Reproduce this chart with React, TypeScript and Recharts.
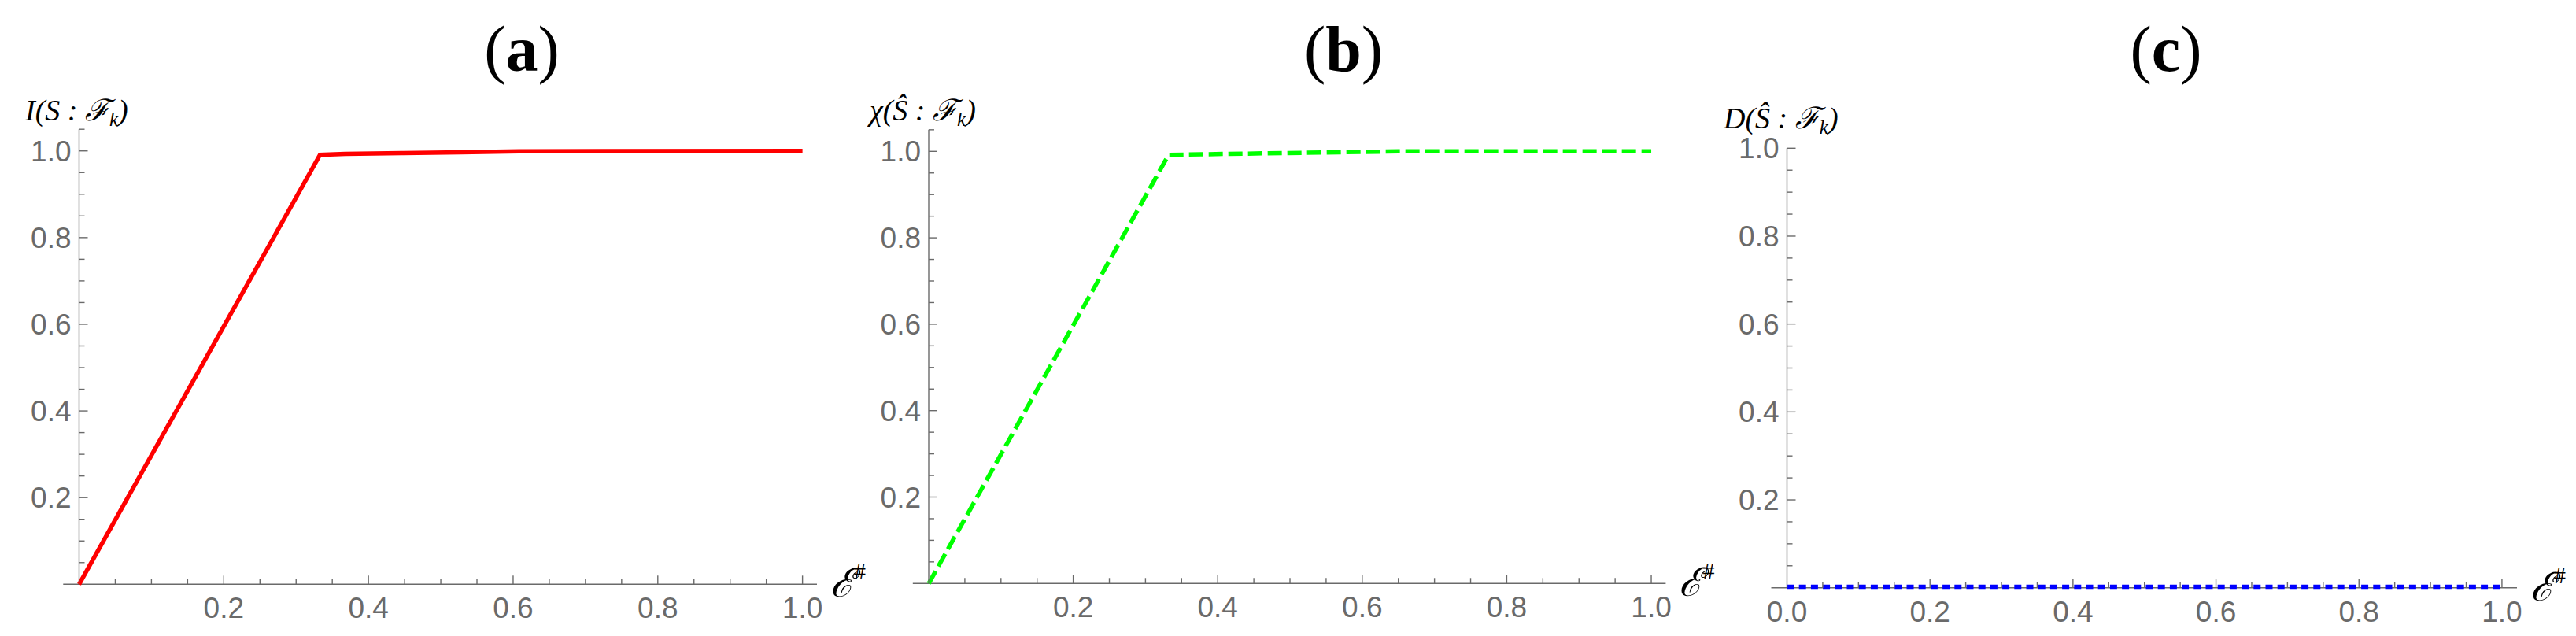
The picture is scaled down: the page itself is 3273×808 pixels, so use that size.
import React from 'react';
import { LineChart, Line, XAxis, YAxis, ReferenceLine } from 'recharts';

// ---------- data ----------
const aX = [0, 0.333, 0.368, 0.448, 0.528, 0.608, 1.0];
const aY = [0, 0.991, 0.993, 0.995, 0.997, 0.999, 1.0];

const bX = [0, 0.332, 0.409, 0.489, 0.569, 0.65, 1.0];
const bY = [0, 0.992, 0.994, 0.996, 0.998, 1.0, 1.0];

const cX = [0, 0.25, 0.5, 0.75, 1.0];
const cY = [0.002, 0.002, 0.002, 0.002, 0.002];

const xTicksAB = [0.05, 0.1, 0.15, 0.2, 0.25, 0.3, 0.35, 0.4, 0.45, 0.5, 0.55, 0.6, 0.65, 0.7, 0.75, 0.8, 0.85, 0.9, 0.95, 1.0];
const xMajorAB = [0.2, 0.4, 0.6, 0.8, 1.0];
const xLabelsAB = ['0.2', '0.4', '0.6', '0.8', '1.0'];

const xTicksC = [0, 0.05, 0.1, 0.15, 0.2, 0.25, 0.3, 0.35, 0.4, 0.45, 0.5, 0.55, 0.6, 0.65, 0.7, 0.75, 0.8, 0.85, 0.9, 0.95, 1.0];
const xMajorC = [0, 0.2, 0.4, 0.6, 0.8, 1.0];
const xLabelsC = ['0.0', '0.2', '0.4', '0.6', '0.8', '1.0'];

const yTicksAB = [0.05, 0.1, 0.15, 0.2, 0.25, 0.3, 0.35, 0.4, 0.45, 0.5, 0.55, 0.6, 0.65, 0.7, 0.75, 0.8, 0.85, 0.9, 0.95, 1.0, 1.05];
const yTicksC = [0.05, 0.1, 0.15, 0.2, 0.25, 0.3, 0.35, 0.4, 0.45, 0.5, 0.55, 0.6, 0.65, 0.7, 0.75, 0.8, 0.85, 0.9, 0.95, 1.0];
const yMajor = [0.2, 0.4, 0.6, 0.8, 1.0];
const yLabels = ['0.2', '0.4', '0.6', '0.8', '1.0'];

const titles = ['a', 'b', 'c'];
const yAxisTitles = ['I(S : ℱ', 'χ(Ŝ : ℱ', 'D(Ŝ : ℱ'];

// ---------- styles ----------
const AXIS = '#6a6a6a';
const TICKTEXT = '#6a6a6a';
const SANS = "'Liberation Sans', Arial, sans-serif";
const SERIF = "'Liberation Serif', 'DejaVu Serif', serif";

const findMajor = (majors: number[], v: number) => majors.findIndex((m) => Math.abs(m - v) < 1e-9);

const XTick = (props: any) => {
  const { x, y, payload, majors, labels } = props;
  const idx = findMajor(majors, payload.value);
  const major = idx >= 0;
  return (
    <g>
      {payload.value !== 0 && (
        <line x1={x} x2={x} y1={y} y2={y - (major ? 11 : 7)} stroke={AXIS} strokeWidth={1.4} />
      )}
      {major && (
        <text x={x} y={y + 43} textAnchor="middle" fontFamily={SANS} fontSize={37} fill={TICKTEXT}>
          {labels[idx]}
        </text>
      )}
    </g>
  );
};

const YTick = (props: any) => {
  const { x, y, payload } = props;
  const idx = findMajor(yMajor, payload.value);
  const major = idx >= 0;
  return (
    <g>
      <line x1={x} x2={x + (major ? 11 : 7)} y1={y} y2={y} stroke={AXIS} strokeWidth={1.4} />
      {major && (
        <text x={x - 10} y={y + 13} textAnchor="end" fontFamily={SANS} fontSize={37} fill={TICKTEXT}>
          {yLabels[idx]}
        </text>
      )}
    </g>
  );
};

const XLabel = (props: any) => {
  const vb = props.viewBox || {};
  return (
    <text x={vb.x + vb.width + 17} y={vb.y + 16} fontFamily={SERIF} fontSize={50} fill="#000">
      <tspan fontStyle="italic">ℰ</tspan>
      <tspan fontSize={30} dy={-22}>#</tspan>
    </text>
  );
};

const makeYLabel = (idx: number, dx: number, dy: number) => (props: any) => {
  const vb = props.viewBox || {};
  const x = vb.x + vb.width + dx;
  const y = vb.y + dy;
  return (
    <text x={x} y={y} fontFamily={SERIF} fontSize={38} fontStyle="italic" fill="#000">
      {yAxisTitles[idx]}
      <tspan fontSize={25} dy={7}>k</tspan>
      <tspan dy={-7}>)</tspan>
    </text>
  );
};

type PanelProps = {
  left: number;
  width: number;
  margin: { top: number; right: number; bottom: number; left: number };
  xs: number[];
  ys: number[];
  color: string;
  dash?: string;
  yMax: number;
  xMax: number;
  xTicks: number[];
  xMajors: number[];
  xLabels: string[];
  yTicks: number[];
  idx: number;
  ylDx: number;
  ylDy: number;
};

const Panel = (p: PanelProps) => {
  const data = p.xs.map((x, i) => ({ x, y: p.ys[i] }));
  return (
    <div style={{ position: 'absolute', left: p.left, top: 0 }}>
      <LineChart width={p.width} height={808} data={data} margin={p.margin} style={{ overflow: 'visible' }}>
        <XAxis
          dataKey="x"
          type="number"
          domain={[0, p.xMax]}
          ticks={p.xTicks}
          interval={0}
          axisLine={false}
          tickLine={false}
          tickSize={0}
          tickMargin={0}
          height={40}
          tick={(tp: any) => <XTick {...tp} majors={p.xMajors} labels={p.xLabels} />}
          label={{ content: XLabel }}
        />
        <YAxis
          type="number"
          domain={[0, p.yMax]}
          ticks={p.yTicks}
          interval={0}
          axisLine={{ stroke: AXIS, strokeWidth: 1.4 }}
          tickLine={false}
          tickSize={0}
          tickMargin={0}
          width={40}
          tick={(tp: any) => <YTick {...tp} />}
          label={{ content: makeYLabel(p.idx, p.ylDx, p.ylDy) }}
        />
        <ReferenceLine
          segment={[{ x: -0.022, y: 0 }, { x: p.xMax, y: 0 }]}
          stroke={AXIS}
          strokeWidth={1.6}
          ifOverflow="visible"
        />
        <Line
          type="linear"
          dataKey="y"
          stroke={p.color}
          strokeWidth={5.5}
          strokeDasharray={p.dash}
          dot={false}
          activeDot={false}
          isAnimationActive={false}
        />
      </LineChart>
    </div>
  );
};

export default function App() {
  const titleX = [663, 1707, 2752];
  return (
    <div style={{ position: 'absolute', left: 0, top: 0, width: 3273, height: 808, background: '#fff', overflow: 'hidden' }}>
      <Panel
        left={0}
        width={1150}
        margin={{ top: 164.2, right: 112, bottom: 25.7, left: 60.5 }}
        xs={aX}
        ys={aY}
        color="#ff0000"
        yMax={1.05}
        xMax={1.02}
        xTicks={xTicksAB}
        xMajors={xMajorAB}
        xLabels={xLabelsAB}
        yTicks={yTicksAB}
        idx={0}
        ylDx={-68.5}
        ylDy={-11}
      />
      <Panel
        left={1091}
        width={1150}
        margin={{ top: 164.85, right: 124.6, bottom: 26.7, left: 49 }}
        xs={bX}
        ys={bY}
        color="#00ff00"
        dash="18 7"
        yMax={1.05}
        xMax={1.02}
        xTicks={xTicksAB}
        xMajors={xMajorAB}
        xLabels={xLabelsAB}
        yTicks={yTicksAB}
        idx={1}
        ylDx={-75}
        ylDy={-12}
      />
      <Panel
        left={2182}
        width={1091}
        margin={{ top: 188.3, right: 75, bottom: 21.3, left: 48.5 }}
        xs={cX}
        ys={cY}
        color="#0000ff"
        dash="9 6.2"
        yMax={1.0}
        xMax={1.021}
        xTicks={xTicksC}
        xMajors={xMajorC}
        xLabels={xLabelsC}
        yTicks={yTicksC}
        idx={2}
        ylDx={-80.5}
        ylDy={-25}
      />
      <svg width={3273} height={808} style={{ position: 'absolute', left: 0, top: 0, pointerEvents: 'none' }}>
        {titles.map((t, i) => (
          <text key={t} x={titleX[i]} y={90} textAnchor="middle" fontFamily={SERIF} fontSize={82} fill="#000">
            <tspan>(</tspan>
            <tspan fontWeight="bold">{t}</tspan>
            <tspan>)</tspan>
          </text>
        ))}
      </svg>
    </div>
  );
}
